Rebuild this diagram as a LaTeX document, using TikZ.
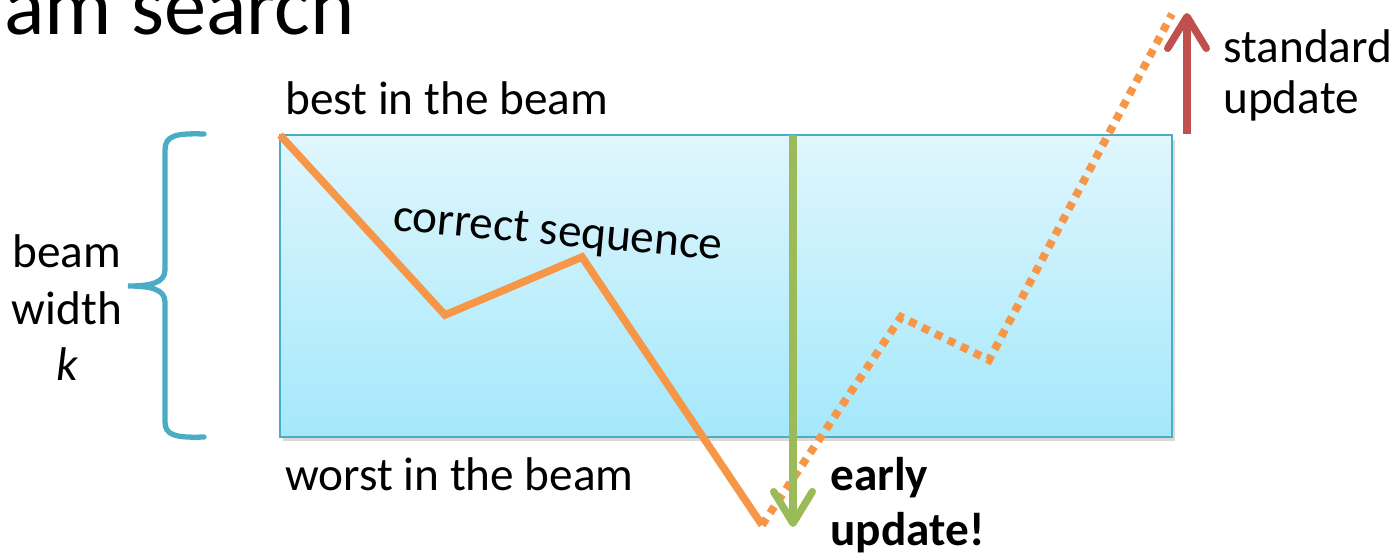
\documentclass[tikz,border=0pt]{standalone}
\usepackage{fontspec}
\setmainfont{Carlito}
\usetikzlibrary{arrows.meta}
\definecolor{orng}{HTML}{F79646}
\definecolor{grn}{HTML}{9BBB59}
\definecolor{rd}{HTML}{C0504D}
\definecolor{teal2}{HTML}{4BACC6}
\definecolor{boxtop}{RGB}{224,246,253}
\definecolor{boxbot}{RGB}{164,232,251}
\tikzset{
  lbl/.style={inner sep=0pt, anchor=base west, font=\fontsize{26.9}{32}\selectfont},
  lblc/.style={inner sep=0pt, anchor=base, font=\fontsize{26.9}{32}\selectfont},
  bold/.style={lbl, font=\fontsize{26.9}{32}\selectfont\bfseries},
  beambox/.style={draw=teal2, line width=0.8pt, top color=boxtop, bottom color=boxbot,
    minimum width=17.84cm, minimum height=6.04cm, inner sep=0pt},
  solidpath/.style={draw=orng, line width=4.3pt, line join=miter},
  dotpath/.style={draw=orng, line width=4.5pt, dash pattern=on 4.4pt off 3.8pt},
  updarrow/.style={line width=4.2pt, -{Straight Barb[length=18pt,width=22pt,round]}},
}
\begin{document}
\begin{tikzpicture}[x=0.02cm,y=-0.02cm]
\useasboundingbox (0,0) rectangle (1394,555);
% title
\node[inner sep=0pt, anchor=base west, font=\fontsize{48}{56}\selectfont] (title) at (4,34) {am search};
% beam box
\fill[black!15] (283,140) rectangle (1175,441);
\node[beambox] (box) at (726,286) {};
% brace
\draw[teal2, line width=3pt, line cap=round]
  (204,134) .. controls (175,133) and (165,136) .. (165,150)
  -- (165,270) .. controls (165,283) and (150,286) .. (128,286)
  .. controls (150,286) and (165,289) .. (165,302)
  -- (165,422) .. controls (165,435) and (175,438) .. (204,437);
% labels
\node[lbl] (best) at (285,114) {best in the beam};
\node[lbl] (worst) at (285,490) {worst in the beam};
\node[lblc] (bw1) at (67,267) {beam};
\node[lblc] (bw2) at (67,324) {width};
\node[lblc] (bw3) at (67,380) {\itshape k};
\node[lbl] (std1) at (1223,62) {standard};
\node[lbl] (std2) at (1223,113) {update};
\node[bold] (early1) at (830,490) {early};
\node[bold] (early2) at (830,545) {update!};
\node[lbl, rotate=-5.2] (corr) at (392,230) {correct sequence};
% correct sequence path
\coordinate (c0) at (280,135);
\coordinate (c1) at (445,315);
\coordinate (c2) at (582,257);
\coordinate (c3) at (762,525);
\draw[solidpath] (c0) -- (c1) -- (c2) -- (c3);
% dotted continuation
\coordinate (d1) at (901,317);
\coordinate (d2) at (989,360);
\coordinate (d3) at (1172,14);
\draw[dotpath] (c3) -- (d1) -- (d2) -- (d3);
% green early update arrow
\coordinate (g0) at (793,135);
\coordinate (g1) at (793,527);
\draw[updarrow, grn] (g0) -- (g1);
% red standard update arrow
\coordinate (r0) at (1187,134);
\coordinate (r1) at (1187,13);
\draw[updarrow, rd] (r0) -- (r1);
\end{tikzpicture}
\end{document}
